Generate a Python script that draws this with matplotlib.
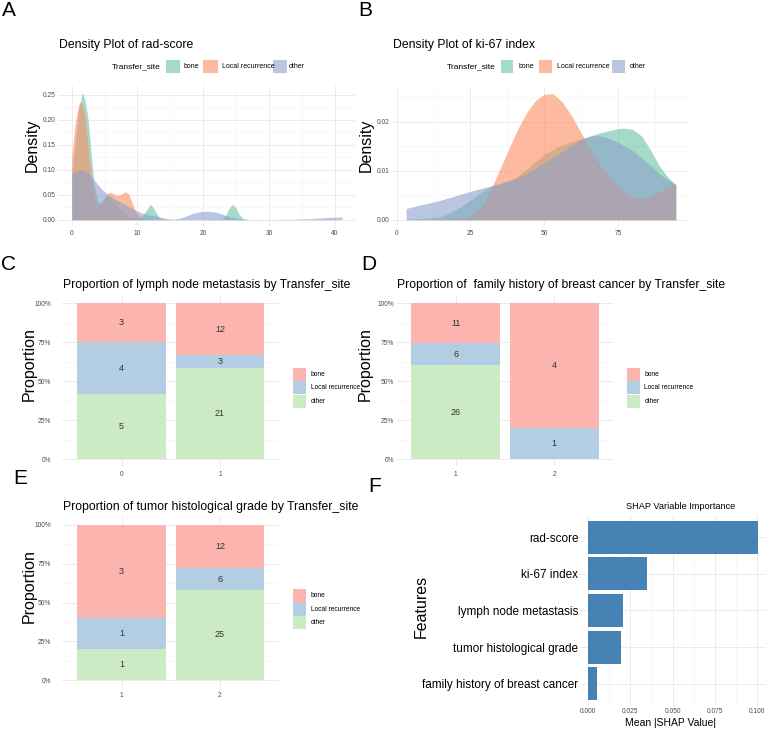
import numpy as np
import matplotlib
matplotlib.use("Agg")
import matplotlib.pyplot as plt
from matplotlib.patches import Rectangle
from matplotlib.ticker import MultipleLocator, FixedLocator

plt.rcParams['font.family'] = ['Liberation Sans', 'DejaVu Sans']

W, H = 767, 731

sites = ["bone", "Local recurrence", "other"]
dens_colors = ["#66C2A5", "#FC8D62", "#8DA0CB"]
prop_colors = ["#FBB4AE", "#B3CDE3", "#CCEBC5"]

# A - density of rad-score
rad_bone_x = [0, 0.5, 1.0, 1.6, 2.0, 2.5, 3.0, 3.4, 3.9, 4.3, 4.9, 5.4, 6.0, 7.0, 8.0, 9.0, 10.0,
              10.8, 11.4, 12.0, 12.6, 13.2, 13.8, 15, 20, 22.8, 23.4, 23.9, 24.4, 24.9, 25.4, 26.0, 26.6, 30, 35, 41.1]
rad_bone_d = [0.09, 0.15, 0.215, 0.255, 0.24, 0.20, 0.126, 0.07, 0.04, 0.033, 0.042, 0.048, 0.042, 0.026, 0.013, 0.005, 0.003,
              0.008, 0.02, 0.031, 0.02, 0.006, 0.001, 0, 0, 0.001, 0.009, 0.022, 0.031, 0.025, 0.012, 0.003, 0, 0, 0, 0]
rad_lr_x = [0, 0.5, 1.0, 1.3, 1.7, 2.1, 2.6, 3.1, 3.7, 4.3, 4.9, 5.4, 5.9, 6.5, 7.0, 7.6, 8.2, 8.7, 9.3, 9.9, 10.5, 11.2, 15, 20, 30, 41.1]
rad_lr_d = [0.126, 0.19, 0.228, 0.236, 0.225, 0.20, 0.13, 0.07, 0.035, 0.03, 0.042, 0.052, 0.055, 0.051, 0.048, 0.052, 0.056,
            0.05, 0.03, 0.012, 0.003, 0, 0, 0, 0, 0]
rad_other_x = [0, 0.8, 1.5, 2.5, 3.5, 4.5, 5.5, 6.5, 7.5, 8.5, 9.5, 10.5, 11.5, 12.5, 13.5, 14.5, 15.5, 16.5, 17.5, 18.5,
               19.5, 20.5, 21.5, 22.5, 23.5, 24.5, 25.5, 27, 30, 33, 36, 38.5, 40, 41.1]
rad_other_d = [0.091, 0.098, 0.1, 0.094, 0.078, 0.062, 0.05, 0.042, 0.035, 0.028, 0.02, 0.014, 0.01, 0.008, 0.005, 0.002,
               0.001, 0.003, 0.008, 0.013, 0.016, 0.017, 0.016, 0.013, 0.008, 0.004, 0.002, 0.0005, 0.0003, 0.0008, 0.002,
               0.004, 0.005, 0.0055]

# B - density of ki-67 index
ki_bone_x = [3.2, 10, 15, 20, 25, 29, 32.5, 36, 40, 45, 50, 55, 60, 65, 70, 75, 77, 80, 83, 86, 89, 92, 94.6]
ki_bone_d = [0.0001, 0.0003, 0.0006, 0.002, 0.004, 0.0058, 0.0069, 0.0076, 0.0085, 0.0108, 0.0133, 0.015, 0.0161, 0.017,
             0.0179, 0.0186, 0.0187, 0.0184, 0.0171, 0.0143, 0.011, 0.0086, 0.0072]
ki_lr_x = [3.2, 10, 15, 20, 25, 28, 30, 32.5, 35, 38, 41, 44, 47, 50, 53, 56, 59, 62, 65, 68, 71, 74, 77, 80, 83, 86, 89,
           92, 94.6]
ki_lr_d = [0, 0, 0.0001, 0.0002, 0.0008, 0.0023, 0.0037, 0.0069, 0.0104, 0.0145, 0.0185, 0.0218, 0.0243, 0.0256, 0.0257,
           0.0241, 0.0215, 0.0183, 0.015, 0.012, 0.0097, 0.0075, 0.0057, 0.0047, 0.0043, 0.0048, 0.0058, 0.0068, 0.0072]
ki_other_x = [3.2, 8, 15, 20, 25, 30, 35, 40, 45, 50, 55, 60, 63, 66.5, 70, 75, 80, 85, 90, 94.6]
ki_other_d = [0.0023, 0.003, 0.004, 0.0049, 0.0058, 0.0066, 0.0074, 0.0082, 0.0097, 0.0116, 0.0135, 0.0155, 0.0165,
              0.0172, 0.017, 0.0158, 0.0141, 0.0116, 0.0089, 0.0072]

# C, D, E - counts per Transfer_site (bone, Local recurrence, other)
lymph_cats = ["0", "1"]
lymph_counts = [[3, 12], [4, 3], [5, 21]]
family_cats = ["1", "2"]
family_counts = [[11, 4], [6, 1], [26, 0]]
grade_cats = ["1", "2"]
grade_counts = [[3, 12], [1, 6], [1, 25]]

# F - SHAP importance
shap_features = ["rad-score", "ki-67 index", "lymph node metastasis", "tumor histological grade",
                 "family history of breast cancer"]
shap_values = [0.1006, 0.035, 0.0204, 0.0192, 0.0053]

fig = plt.figure(figsize=(W / 100, H / 100), dpi=100)


def px_axes(l, t, r, b):
    return fig.add_axes([l / W, 1 - b / H, (r - l) / W, (b - t) / H])


def ftext(x, y, s, **kw):
    fig.text(x / W, 1 - y / H, s, **kw)


def fbox(l, t, r, b, color):
    fig.add_artist(Rectangle((l / W, 1 - b / H), (r - l) / W, (b - t) / H,
                             transform=fig.transFigure, color=color, lw=0))


def minimal(ax):
    for s in ax.spines.values():
        s.set_visible(False)
    ax.set_axisbelow(True)
    ax.grid(which='major', color='#EBEBEB', lw=0.7)
    ax.grid(which='minor', color='#F4F4F4', lw=0.45)
    ax.tick_params(which='both', length=0, labelsize=4.8, labelcolor='#4D4D4D')


def density_panel(ax, xs, ds, xlim, ylim, xmaj, ymaj, yfmt):
    minimal(ax)
    for x, d, c in zip(xs, ds, dens_colors):
        ax.fill_between(x, 0, d, color=c, alpha=0.6, lw=0)
    ax.set_xlim(*xlim)
    ax.set_ylim(*ylim)
    ax.xaxis.set_major_locator(MultipleLocator(xmaj))
    ax.xaxis.set_minor_locator(MultipleLocator(xmaj / 2))
    ax.yaxis.set_major_locator(MultipleLocator(ymaj))
    ax.yaxis.set_minor_locator(MultipleLocator(ymaj / 2))
    ax.yaxis.set_major_formatter(lambda v, p: yfmt.format(v))
    ax.xaxis.set_major_formatter(lambda v, p: f"{v:g}")
    ax.tick_params(axis='y', pad=2)
    ax.tick_params(axis='x', pad=3)


def prop_panel(ax, cats, counts, ypad):
    minimal(ax)
    xs = np.arange(len(cats))
    counts = np.array(counts, dtype=float)
    totals = counts.sum(axis=0)
    bottom = np.zeros(len(cats))
    # stack from bottom: other, Local recurrence, bone
    for i in [2, 1, 0]:
        frac = counts[i] / totals
        ax.bar(xs, frac, width=0.9, bottom=bottom, color=prop_colors[i], lw=0)
        for x, f, b, n in zip(xs, frac, bottom, counts[i]):
            if n > 0:
                ax.text(x, b + f / 2, f"{int(n)}", ha='center', va='center', fontsize=6.5, color='#333333')
        bottom += frac
    ax.set_xlim(-0.6, len(cats) - 0.4)
    ax.set_ylim(-0.05, 1.05)
    ax.set_xticks(xs)
    ax.set_xticklabels(cats)
    ax.yaxis.set_major_locator(FixedLocator([0, 0.25, 0.5, 0.75, 1.0]))
    ax.yaxis.set_minor_locator(FixedLocator([0.125, 0.375, 0.625, 0.875]))
    ax.yaxis.set_major_formatter(lambda v, p: f"{v * 100:.0f}%")
    ax.tick_params(axis='y', pad=ypad)
    ax.tick_params(axis='x', pad=3)


def density_legend(x_title, keys, labels_x, y):
    ftext(x_title, y, "Transfer_site", fontsize=6, va='center', ha='left')
    for (l, r), c, lx, s in zip(keys, dens_colors, labels_x, sites):
        fbox(l, y - 6.5, r, y + 6.5, c + "99")
        ftext(lx, y, s, fontsize=5, va='center', ha='left')


def prop_legend(l, r, top, lx):
    for i, s in enumerate(sites):
        t = top + i * 13.4
        fbox(l, t, r, t + 13.2, prop_colors[i])
        ftext(lx, t + 6.6, s, fontsize=4.8, va='center', ha='left')


# panel A
axA = px_axes(58.3, 85.7, 355.2, 226.1)
density_panel(axA, [rad_bone_x, rad_lr_x, rad_other_x], [rad_bone_d, rad_lr_d, rad_other_d],
              (-2.04, 43.1), (-0.0128, 0.268), 10, 0.05, "{:.2f}")
ftext(59, 45, "Density Plot of rad-score", fontsize=8.8, va='center')
density_legend(112.3, [(165.7, 180), (203.3, 217.7), (272.7, 287.3)], [184, 222.3, 288.3], 66.7)
ftext(32, 145, "Density", fontsize=11.5, rotation=90, ha='center', va='center')

# panel B
axB = px_axes(392.6, 86.9, 689.3, 226.1)
density_panel(axB, [ki_bone_x, ki_lr_x, ki_other_x], [ki_bone_d, ki_lr_d, ki_other_d],
              (-1.4, 99.2), (-0.0013, 0.0271), 25, 0.01, "{:.2f}")
ftext(392.7, 45, "Density Plot of ki-67 index", fontsize=8.8, va='center')
density_legend(446.7, [(500.7, 513.3), (539.3, 552.3), (612.3, 625)], [518.3, 556.7, 630], 66.7)
ftext(366, 145, "Density", fontsize=11.5, rotation=90, ha='center', va='center')

# panel C
axC = px_axes(62.4, 295.5, 279.1, 467.1)
prop_panel(axC, lymph_cats, lymph_counts, 8)
ftext(63, 285, "Proportion of lymph node metastasis by Transfer_site", fontsize=8.7, va='center')
prop_legend(292.7, 306, 367.7, 310.7)
ftext(29.5, 364, "Proportion", fontsize=11.5, rotation=90, ha='center', va='center')

# panel D
axD = px_axes(396.7, 295.5, 613.4, 467.1)
prop_panel(axD, family_cats, family_counts, 2)
ftext(397.3, 285, "Proportion of  family history of breast cancer by Transfer_site", fontsize=8.7, va='center')
prop_legend(626.7, 640, 367.7, 644.3)
ftext(365.5, 364, "Proportion", fontsize=11.5, rotation=90, ha='center', va='center')

# panel E
axE = px_axes(62.4, 517.2, 279.1, 687.8)
prop_panel(axE, grade_cats, grade_counts, 8)
ftext(63, 506.7, "Proportion of tumor histological grade by Transfer_site", fontsize=8.8, va='center')
prop_legend(292.7, 306, 589.3, 310.7)
ftext(29.5, 586, "Proportion", fontsize=11.5, rotation=90, ha='center', va='center')

# panel F
axF = px_axes(579.8, 515, 766.2, 705.7)
minimal(axF)
ypos = np.arange(len(shap_features))[::-1]
axF.barh(ypos, shap_values, height=0.9, color='#4682B4', lw=0)
axF.set_xlim(-0.00503, 0.1056)
axF.set_ylim(-0.6, len(shap_features) - 0.4)
axF.set_yticks(ypos)
axF.set_yticklabels(shap_features)
axF.xaxis.set_major_locator(MultipleLocator(0.025))
axF.xaxis.set_minor_locator(MultipleLocator(0.0125))
axF.xaxis.set_major_formatter(lambda v, p: f"{v:.3f}")
axF.tick_params(axis='y', labelsize=8.5, labelcolor='black', pad=1)
axF.tick_params(axis='x', pad=2)
ftext(680.7, 506.7, "SHAP Variable Importance", fontsize=6.6, va='center', ha='center')
ftext(670.5, 723, "Mean |SHAP Value|", fontsize=7.5, va='center', ha='center')
ftext(421, 606.7, "Features", fontsize=11.5, rotation=90, ha='center', va='center')

# panel letters
for s, x, y in [("A", 8.5, 11), ("B", 365, 11), ("C", 9, 264), ("D", 369, 264), ("E", 20, 479), ("F", 375, 487)]:
    ftext(x, y, s, fontsize=15, ha='center', va='center')

fig.savefig("out.png", dpi=100)
